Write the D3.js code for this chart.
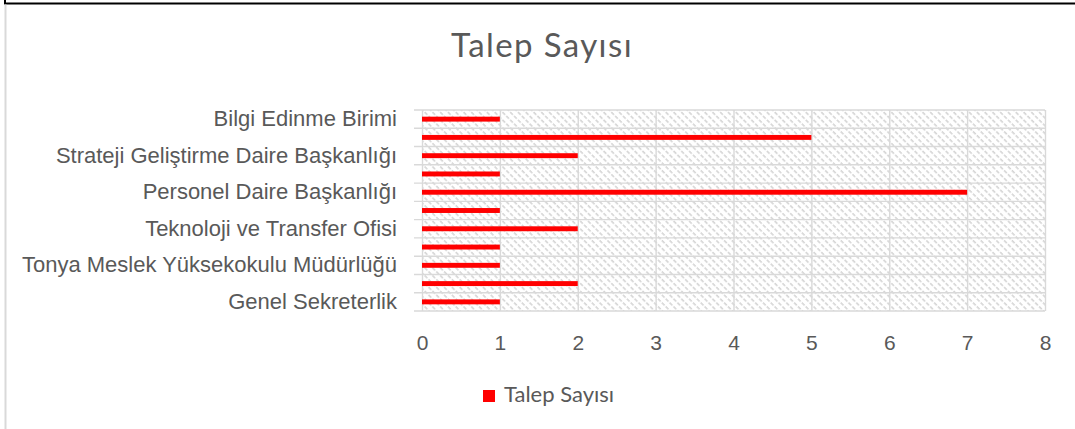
<!DOCTYPE html>
<html>
<head>
<meta charset="utf-8">
<script src="https://cdn.jsdelivr.net/npm/d3@7"></script>
<style>
  body { margin: 0; background: #fff; }
  svg { display: block; font-family: Lato, "Open Sans", sans-serif; }
</style>
</head>
<body>
<svg id="chart" width="1075" height="429"></svg>
<script>
// Categories listed bottom-to-top (Excel order). Odd-indexed labels are not shown
// in the original chart (axis skips every other label), so their names are unknown.
const categories = [
  "Genel Sekreterlik",
  "Birim 2 (etiket gösterilmiyor)",
  "Tonya Meslek Yüksekokulu Müdürlüğü",
  "Birim 4 (etiket gösterilmiyor)",
  "Teknoloji ve Transfer Ofisi",
  "Birim 6 (etiket gösterilmiyor)",
  "Personel Daire Başkanlığı",
  "Birim 8 (etiket gösterilmiyor)",
  "Strateji Geliştirme Daire Başkanlığı",
  "Birim 10 (etiket gösterilmiyor)",
  "Bilgi Edinme Birimi"
];
const values = [1, 2, 1, 1, 2, 1, 7, 1, 2, 5, 1];
const xTicks = [0, 1, 2, 3, 4, 5, 6, 7, 8];
const seriesName = "Talep Sayısı";
const chartTitle = "Talep Sayısı";

const svg = d3.select("#chart");
const W = 1075, H = 429;
const plot = { left: 422, right: 1045, top: 110, bottom: 311 };
const textColor = "#595959";
const gridColor = "#d9d9d9";
const barColor = "#ff0000";

// frame remnants
svg.append("line").attr("x1", 4).attr("x2", W).attr("y1", 3.5).attr("y2", 3.5)
  .attr("stroke", "#000").attr("stroke-width", 2);
svg.append("line").attr("x1", 5).attr("x2", 5).attr("y1", 0).attr("y2", 4)
  .attr("stroke", "#000").attr("stroke-width", 2);
svg.append("line").attr("x1", 5.5).attr("x2", 5.5).attr("y1", 4.5).attr("y2", H)
  .attr("stroke", "#d9d9d9").attr("stroke-width", 2);

// hatch pattern (downward diagonal)
const defs = svg.append("defs");
const pat = defs.append("pattern")
  .attr("id", "hatch").attr("patternUnits", "userSpaceOnUse")
  .attr("width", 5.5).attr("height", 5.5)
  .attr("patternTransform", "rotate(-45)");
pat.append("line").attr("x1", 1).attr("x2", 1).attr("y1", 0).attr("y2", 5.5)
  .attr("stroke", "#cbcbcb").attr("stroke-width", 1.3)
  .attr("stroke-dasharray", "4,1.5");

const x = d3.scaleLinear().domain([xTicks[0], xTicks[xTicks.length - 1]])
  .range([plot.left, plot.right]);
const y = d3.scaleBand().domain(categories)
  .range([plot.bottom, plot.top])
  .paddingInner(0.73).paddingOuter(0.365);
const step = y.step();

// plot background hatch
svg.append("rect").attr("x", plot.left).attr("y", plot.top)
  .attr("width", plot.right - plot.left).attr("height", plot.bottom - plot.top)
  .attr("fill", "url(#hatch)");

// vertical gridlines + x tick labels via axis
const xAxis = d3.axisBottom(x).tickValues(xTicks).tickSize(-(plot.bottom - plot.top))
  .tickSizeOuter(0).tickPadding(24).tickFormat(d3.format("d"));
const gx = svg.append("g").attr("transform", `translate(0,${plot.bottom})`).call(xAxis);
gx.select(".domain").remove();
gx.selectAll(".tick line").attr("stroke", gridColor).attr("stroke-width", 1.4);
gx.selectAll(".tick text").attr("fill", textColor).attr("font-size", 21);

// horizontal gridlines at category boundaries, extending into tick marks
const boundaries = d3.range(categories.length + 1).map(i => plot.bottom - i * step);
svg.append("g").selectAll("line").data(boundaries).join("line")
  .attr("x1", plot.left - 8).attr("x2", plot.right)
  .attr("y1", d => d).attr("y2", d => d)
  .attr("stroke", gridColor).attr("stroke-width", 1.4);

// category axis labels (every other label shown)
const yAxis = d3.axisLeft(y).tickSize(0).tickPadding(25)
  .tickFormat((d, i) => (i % 2 === 0 ? d : ""));
const gy = svg.append("g").attr("transform", `translate(${plot.left},0)`).call(yAxis);
gy.select(".domain").remove();
gy.selectAll(".tick text").attr("fill", textColor).attr("font-size", 22);

// bars
svg.append("g").selectAll("rect").data(categories).join("rect")
  .attr("x", x(0))
  .attr("y", d => y(d))
  .attr("width", (d, i) => x(values[i]) - x(0))
  .attr("height", y.bandwidth())
  .attr("fill", barColor);

// title
svg.append("text").attr("x", 542).attr("y", 57)
  .attr("text-anchor", "middle").attr("fill", textColor)
  .attr("font-size", 33).attr("letter-spacing", 1.4).text(chartTitle);

// legend
const lg = svg.append("g").attr("transform", "translate(483,390)");
lg.append("rect").attr("width", 12).attr("height", 12).attr("fill", barColor);
lg.append("text").attr("x", 21).attr("y", 12).attr("fill", textColor)
  .attr("font-size", 22).text(seriesName);
</script>
</body>
</html>
